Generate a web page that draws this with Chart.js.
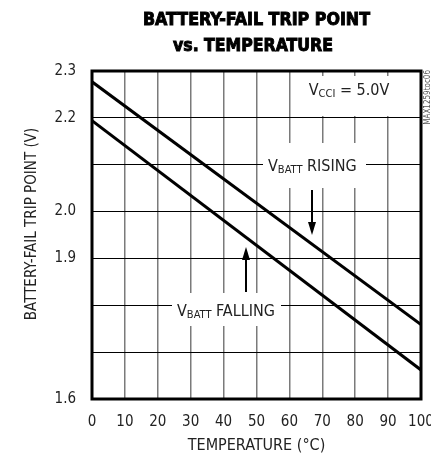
<!DOCTYPE html>
<html>
<head>
<meta charset="utf-8">
<script src="https://cdn.jsdelivr.net/npm/chart.js@4.4.0/dist/chart.umd.min.js"></script>
<style>
html,body{margin:0;padding:0;background:#fff;}
#wrap{width:431px;height:459px;position:relative;}
</style>
</head>
<body>
<div id="wrap"><canvas id="c" width="431" height="459"></canvas></div>
<script>
const temperatures = [0, 100];
const risingValues = [2.277, 1.759];
const fallingValues = [2.194, 1.662];
const xTickValues = [0,10,20,30,40,50,60,70,80,90,100];
const yTickLabels = {"2.3":"2.3","2.2":"2.2","2.1":"","2.0":"2.0","1.9":"1.9","1.8":"","1.7":"","1.6":"1.6"};
const titleLines = ["BATTERY-FAIL TRIP POINT", "vs. TEMPERATURE"];
const xTitle = "TEMPERATURE (°C)";
const yTitle = "BATTERY-FAIL TRIP POINT (V)";

const NARROW = "'Liberation Sans Narrow', 'DejaVu Sans Condensed', 'Arial Narrow', sans-serif";
const TXT = '#222';

function drawParts(ctx, parts, x, y, align) {
  let w = 0;
  parts.forEach(p => { ctx.font = p.f; w += ctx.measureText(p.t).width; });
  let cx = align === 'center' ? x - w/2 : x;
  ctx.textAlign = 'left'; ctx.textBaseline = 'alphabetic';
  parts.forEach(p => { ctx.font = p.f; ctx.fillText(p.t, cx, y + (p.dy||0)); cx += ctx.measureText(p.t).width; });
}

function fitText(ctx, text, cx, y, targetW) {
  const w = ctx.measureText(text).width;
  const s = targetW / w;
  ctx.save();
  ctx.translate(cx, y);
  ctx.scale(s, 1);
  ctx.textAlign = 'center';
  ctx.fillText(text, 0, 0);
  ctx.lineWidth = 0.9;
  ctx.strokeStyle = '#000';
  ctx.strokeText(text, 0, 0);
  ctx.restore();
}

const decor = {
  id: 'decor',
  beforeDatasetsDraw(chart) {
    const ctx = chart.ctx;
    ctx.save();
    ctx.fillStyle = '#fff';
    ctx.fillRect(295, 76, 120, 40);
    ctx.fillRect(263, 143, 103, 45);
    ctx.fillRect(172, 293, 109, 33);
    ctx.restore();
  },
  afterDatasetsDraw(chart) {
    const ctx = chart.ctx;
    const a = chart.chartArea;
    ctx.save();
    ctx.strokeStyle = '#000';
    ctx.lineWidth = 3;
    ctx.strokeRect(a.left, a.top, a.right - a.left, a.bottom - a.top);
    // titles
    ctx.fillStyle = '#000';
    ctx.textBaseline = 'alphabetic';
    ctx.font = "bold 18px " + NARROW;
    fitText(ctx, titleLines[0], 256.5, 25, 227);
    fitText(ctx, titleLines[1], 253, 51, 160);
    // y axis title
    ctx.fillStyle = TXT;
    ctx.font = "15px " + NARROW;
    ctx.save();
    ctx.translate(36, 224);
    ctx.rotate(-Math.PI/2);
    ctx.textAlign = 'center';
    ctx.fillText(yTitle, 0, 0);
    ctx.restore();
    // annotations
    const big = "16px " + NARROW, small = "11px " + NARROW;
    drawParts(ctx, [{t:'V',f:big},{t:'CCI',f:small,dy:2},{t:' = 5.0V',f:big}], 349, 95, 'center');
    drawParts(ctx, [{t:'V',f:big},{t:'BATT',f:small,dy:2},{t:' RISING',f:big}], 268, 171, 'left');
    drawParts(ctx, [{t:'V',f:big},{t:'BATT',f:small,dy:2},{t:' FALLING',f:big}], 177, 316, 'left');
    // arrows
    ctx.strokeStyle = '#000'; ctx.fillStyle = '#000'; ctx.lineWidth = 2;
    ctx.beginPath(); ctx.moveTo(312, 190); ctx.lineTo(312, 226); ctx.stroke();
    ctx.beginPath(); ctx.moveTo(308, 222); ctx.lineTo(316, 222); ctx.lineTo(312, 235); ctx.closePath(); ctx.fill();
    ctx.beginPath(); ctx.moveTo(246, 292); ctx.lineTo(246, 256); ctx.stroke();
    ctx.beginPath(); ctx.moveTo(242, 260); ctx.lineTo(250, 260); ctx.lineTo(246, 247); ctx.closePath(); ctx.fill();
    // side code
    ctx.fillStyle = '#555';
    ctx.font = "8px " + NARROW;
    ctx.translate(428, 70);
    ctx.rotate(-Math.PI/2);
    ctx.textAlign = 'right'; ctx.textBaseline = 'middle';
    ctx.fillText('MAX1259toc06', 0, 0);
    ctx.restore();
  }
};

new Chart(document.getElementById('c'), {
  type: 'line',
  data: {
    datasets: [
      { label: 'VBATT RISING', data: temperatures.map((t,i)=>({x:t,y:risingValues[i]})), borderColor:'#000', borderWidth:3, pointRadius:0, tension:0 },
      { label: 'VBATT FALLING', data: temperatures.map((t,i)=>({x:t,y:fallingValues[i]})), borderColor:'#000', borderWidth:3, pointRadius:0, tension:0 }
    ]
  },
  options: {
    responsive: false,
    animation: false,
    devicePixelRatio: 1,
    layout: { padding: { top: 71, right: 10, left: 0, bottom: 0 } },
    plugins: { legend: { display: false }, tooltip: { enabled: false }, title: { display: false } },
    scales: {
      x: {
        type: 'linear', min: 0, max: 100,
        afterBuildTicks: s => { s.ticks = xTickValues.map(v => ({value: v})); },
        afterFit: s => { s.height = 60; s.paddingLeft = 0; s.paddingRight = 0; },
        grid: { color: '#7a7a7a', lineWidth: 1.5, drawTicks: false },
        border: { display: false },
        ticks: { color: TXT, padding: 14, font: { family: NARROW, size: 15 }, maxRotation: 0, autoSkip: false },
        title: { display: true, text: xTitle, color: TXT, font: { family: NARROW, size: 16 }, padding: { top: 4 } }
      },
      y: {
        type: 'linear', min: 1.6, max: 2.3,
        afterBuildTicks: s => { s.ticks = Object.keys(yTickLabels).map(k => ({value: parseFloat(k)})); },
        afterFit: s => { s.width = 92; s.paddingTop = 0; s.paddingBottom = 0; },
        grid: { color: '#000', lineWidth: 1, drawTicks: false },
        border: { display: false },
        ticks: { color: TXT, padding: 16, font: { family: NARROW, size: 15 },
          callback: v => { const k = v.toFixed(1); return yTickLabels[k] !== undefined ? yTickLabels[k] : ''; } }
      }
    }
  },
  plugins: [decor]
});
</script>
</body>
</html>
